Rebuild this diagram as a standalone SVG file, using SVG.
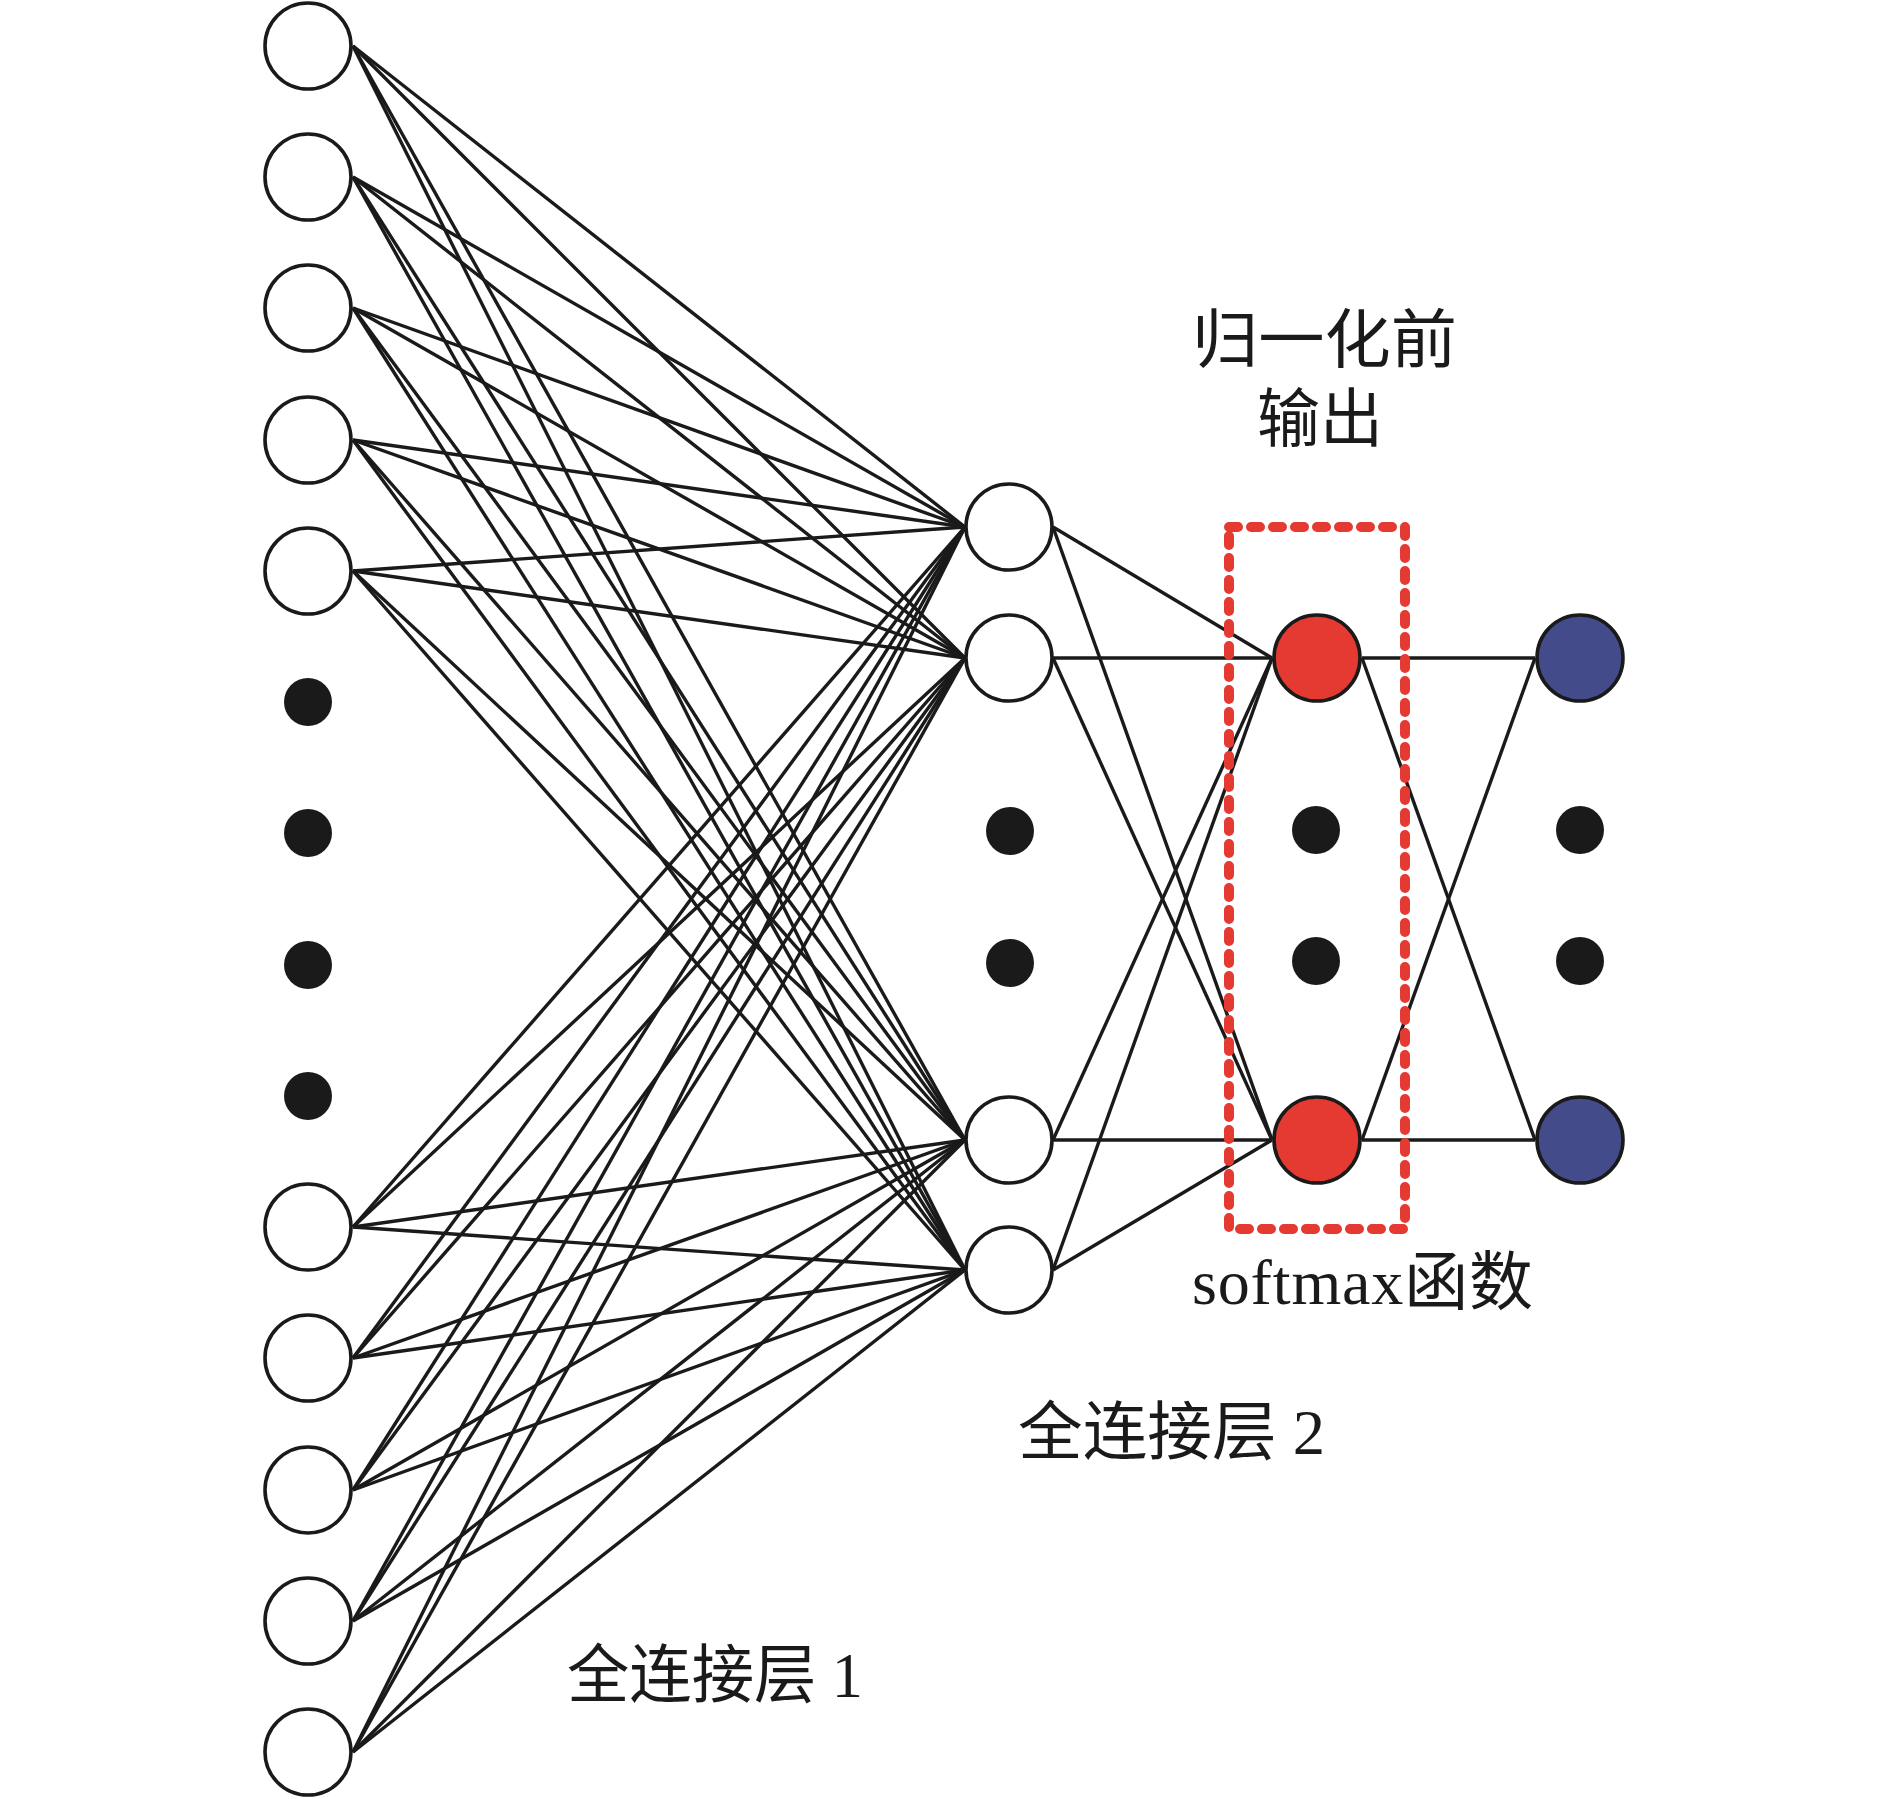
<svg xmlns="http://www.w3.org/2000/svg" width="1890" height="1799" viewBox="0 0 1890 1799">
<style>
.n{fill:#fff;stroke:#1a1a1a;stroke-width:3.6}
.r{fill:#e53a32;stroke:#1a1a1a;stroke-width:3.6}
.b{fill:#434b8a;stroke:#1a1a1a;stroke-width:3.6}
.d{fill:#1a1a1a}
.c line{stroke:#1a1a1a;stroke-width:3.4}
.t{font-family:"Liberation Serif","Noto Sans CJK SC",serif;font-size:64px;fill:#1a1a1a}
</style>
<rect width="1890" height="1799" fill="#fff"/>
<g id="connectors" class="c">
<line x1="353" y1="46" x2="965" y2="527"/><line x1="353" y1="46" x2="965" y2="658"/><line x1="353" y1="46" x2="965" y2="1140"/><line x1="353" y1="46" x2="965" y2="1270"/>
<line x1="353" y1="177" x2="965" y2="527"/><line x1="353" y1="177" x2="965" y2="658"/><line x1="353" y1="177" x2="965" y2="1140"/><line x1="353" y1="177" x2="965" y2="1270"/>
<line x1="353" y1="308" x2="965" y2="527"/><line x1="353" y1="308" x2="965" y2="658"/><line x1="353" y1="308" x2="965" y2="1140"/><line x1="353" y1="308" x2="965" y2="1270"/>
<line x1="353" y1="440" x2="965" y2="527"/><line x1="353" y1="440" x2="965" y2="658"/><line x1="353" y1="440" x2="965" y2="1140"/><line x1="353" y1="440" x2="965" y2="1270"/>
<line x1="353" y1="571" x2="965" y2="527"/><line x1="353" y1="571" x2="965" y2="658"/><line x1="353" y1="571" x2="965" y2="1140"/><line x1="353" y1="571" x2="965" y2="1270"/>
<line x1="353" y1="1227" x2="965" y2="527"/><line x1="353" y1="1227" x2="965" y2="658"/><line x1="353" y1="1227" x2="965" y2="1140"/><line x1="353" y1="1227" x2="965" y2="1270"/>
<line x1="353" y1="1358" x2="965" y2="527"/><line x1="353" y1="1358" x2="965" y2="658"/><line x1="353" y1="1358" x2="965" y2="1140"/><line x1="353" y1="1358" x2="965" y2="1270"/>
<line x1="353" y1="1490" x2="965" y2="527"/><line x1="353" y1="1490" x2="965" y2="658"/><line x1="353" y1="1490" x2="965" y2="1140"/><line x1="353" y1="1490" x2="965" y2="1270"/>
<line x1="353" y1="1621" x2="965" y2="527"/><line x1="353" y1="1621" x2="965" y2="658"/><line x1="353" y1="1621" x2="965" y2="1140"/><line x1="353" y1="1621" x2="965" y2="1270"/>
<line x1="353" y1="1752" x2="965" y2="527"/><line x1="353" y1="1752" x2="965" y2="658"/><line x1="353" y1="1752" x2="965" y2="1140"/><line x1="353" y1="1752" x2="965" y2="1270"/>
<line x1="1053" y1="527" x2="1272" y2="658"/><line x1="1053" y1="527" x2="1272" y2="1140"/>
<line x1="1053" y1="658" x2="1272" y2="658"/><line x1="1053" y1="658" x2="1272" y2="1140"/>
<line x1="1053" y1="1140" x2="1272" y2="658"/><line x1="1053" y1="1140" x2="1272" y2="1140"/>
<line x1="1053" y1="1270" x2="1272" y2="658"/><line x1="1053" y1="1270" x2="1272" y2="1140"/>
<line x1="1362" y1="658" x2="1535" y2="658"/><line x1="1362" y1="658" x2="1535" y2="1140"/>
<line x1="1362" y1="1140" x2="1535" y2="658"/><line x1="1362" y1="1140" x2="1535" y2="1140"/>
</g>
<g id="input-layer">
<circle id="in1" class="n" cx="308" cy="46" r="43"/>
<circle id="in2" class="n" cx="308" cy="177" r="43"/>
<circle id="in3" class="n" cx="308" cy="308" r="43"/>
<circle id="in4" class="n" cx="308" cy="440" r="43"/>
<circle id="in5" class="n" cx="308" cy="571" r="43"/>
<circle class="d" cx="308" cy="702" r="24"/>
<circle class="d" cx="308" cy="833" r="24"/>
<circle class="d" cx="308" cy="965" r="24"/>
<circle class="d" cx="308" cy="1096" r="24"/>
<circle id="in6" class="n" cx="308" cy="1227" r="43"/>
<circle id="in7" class="n" cx="308" cy="1358" r="43"/>
<circle id="in8" class="n" cx="308" cy="1490" r="43"/>
<circle id="in9" class="n" cx="308" cy="1621" r="43"/>
<circle id="in10" class="n" cx="308" cy="1752" r="43"/>
</g>
<g id="hidden-layer">
<circle id="h1" class="n" cx="1009" cy="527" r="43"/>
<circle id="h2" class="n" cx="1009" cy="658" r="43"/>
<circle class="d" cx="1010" cy="831" r="24"/>
<circle class="d" cx="1010" cy="963" r="24"/>
<circle id="h3" class="n" cx="1009" cy="1140" r="43"/>
<circle id="h4" class="n" cx="1009" cy="1270" r="43"/>
</g>
<g id="softmax-box">
<rect x="1229" y="527" width="176" height="702" fill="none" stroke="#e53a32" stroke-width="10" stroke-linecap="round" stroke-dasharray="9 13"/>
</g>
<g id="pre-norm-layer">
<circle id="p1" class="r" cx="1317" cy="658" r="43"/>
<circle class="d" cx="1316" cy="830" r="24"/>
<circle class="d" cx="1316" cy="961" r="24"/>
<circle id="p2" class="r" cx="1317" cy="1140" r="43"/>
</g>
<g id="output-layer">
<circle id="o1" class="b" cx="1580" cy="658" r="43"/>
<circle class="d" cx="1580" cy="830" r="24"/>
<circle class="d" cx="1580" cy="961" r="24"/>
<circle id="o2" class="b" cx="1580" cy="1140" r="43"/>
</g>
<g id="labels">
<text class="t" x="1192" y="362" textLength="265" lengthAdjust="spacingAndGlyphs">归一化前</text>
<text class="t" x="1257" y="441" textLength="126" lengthAdjust="spacingAndGlyphs">输出</text>
<text class="t" x="1192" y="1304" textLength="341" lengthAdjust="spacing">softmax函数</text>
<text class="t" x="1018" y="1454" textLength="307" lengthAdjust="spacingAndGlyphs">全连接层 2</text>
<text class="t" x="567" y="1697" textLength="296" lengthAdjust="spacingAndGlyphs">全连接层 1</text>
</g>
</svg>
